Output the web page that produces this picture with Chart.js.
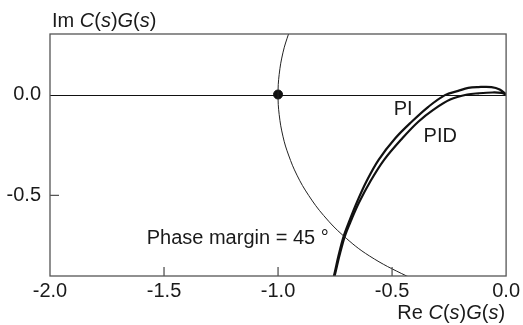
<!DOCTYPE html>
<html><head><meta charset="utf-8">
<script src="https://cdn.jsdelivr.net/npm/chart.js@4/dist/chart.umd.min.js"></script>
<style>html,body{margin:0;padding:0;background:#fff}#wrap{width:523px;height:325px}</style>
</head><body><div id="wrap"><canvas id="c" width="523" height="325"></canvas></div>
<script>
// ---- data ----
const xTicks = [-2.0, -1.5, -1.0, -0.5, 0.0];
const yTicks = [-0.5, 0.0];

const piRe  = [-0.775, -0.755, -0.735, -0.712, -0.685, -0.655, -0.612, -0.559, -0.486, -0.414, -0.341, -0.268, -0.210, -0.166, -0.122, -0.064, -0.028, 0.0];
const piIm  = [-0.980, -0.900, -0.800, -0.702, -0.620, -0.536, -0.430, -0.324, -0.217, -0.135, -0.061, -0.003, 0.018, 0.033, 0.037, 0.037, 0.025, 0.0];

const pidRe = [-0.772, -0.752, -0.731, -0.707, -0.678, -0.645, -0.595, -0.535, -0.455, -0.385, -0.318, -0.245, -0.170, -0.120, -0.060, -0.020, 0.0];
const pidIm = [-0.980, -0.900, -0.800, -0.702, -0.620, -0.536, -0.430, -0.324, -0.217, -0.135, -0.075, -0.025, 0.000, 0.006, 0.010, 0.008, 0.0];

// unit-circle arc as seen in the picture
const circRe = [-0.940, -0.954, -0.978, -0.995, -1.000, -0.995, -0.978, -0.954, -0.917, -0.866, -0.800, -0.714, -0.600, -0.436, -0.350];
const circIm = [0.340, 0.300, 0.210, 0.100, 0.000, -0.100, -0.210, -0.300, -0.400, -0.500, -0.600, -0.700, -0.800, -0.900, -0.937];

const critRe = [-1.0];
const critIm = [0.0];

const noteText = ["PI", "PID", "Phase margin = 45 °"];
const noteRe   = [-0.493, -0.362, -1.576];
const noteIm   = [-0.103, -0.236, -0.743];

// ---- build ----
const pts = (xs, ys) => xs.map((x, i) => ({x: x, y: ys[i]}));
const FONT = "'Liberation Sans', Arial, Helvetica, sans-serif";
Chart.defaults.font.family = FONT;
Chart.defaults.font.size = 20;
Chart.defaults.color = '#1a1a1a';

function drawRich(ctx, x, y, segs, align) {
  ctx.save();
  ctx.textBaseline = 'alphabetic';
  ctx.textAlign = 'left';
  let total = 0;
  const w = segs.map(s => { ctx.font = (s[1] ? 'italic ' : '') + '20px ' + FONT; const m = ctx.measureText(s[0]).width; total += m; return m; });
  let cx = align === 'right' ? x - total : x;
  segs.forEach((s, i) => { ctx.font = (s[1] ? 'italic ' : '') + '20px ' + FONT; ctx.fillText(s[0], cx, y); cx += w[i]; });
  ctx.restore();
}

const framePlugin = {
  id: 'frame',
  beforeDatasetsDraw(chart) {
    const {ctx, chartArea: a, scales: {x, y}} = chart;
    ctx.save();
    ctx.strokeStyle = '#111'; ctx.lineWidth = 1.2;
    const y0 = Math.round(y.getPixelForValue(0)) + 0.5;
    ctx.beginPath(); ctx.moveTo(a.left, y0); ctx.lineTo(a.right, y0); ctx.stroke();
    ctx.restore();
  },
  afterDatasetsDraw(chart) {
    const {ctx, chartArea: a, scales: {x, y}} = chart;
    ctx.save();
    ctx.strokeStyle = '#555'; ctx.lineWidth = 1.3;
    ctx.strokeRect(a.left, a.top, a.right - a.left, a.bottom - a.top);
    ctx.beginPath();
    xTicks.forEach(v => { if (v > -2 && v < 0) { const px = x.getPixelForValue(v); ctx.moveTo(px, a.bottom); ctx.lineTo(px, a.bottom - 9); } });
    yTicks.forEach(v => { if (v !== 0) { const py = y.getPixelForValue(v); ctx.moveTo(a.left, py); ctx.lineTo(a.left + 9, py); } });
    ctx.stroke();
    ctx.restore();
    ctx.save();
    ctx.fillStyle = '#1a1a1a';
    ctx.font = '20px ' + FONT;
    ctx.textBaseline = 'alphabetic';
    noteText.forEach((t, i) => ctx.fillText(t, x.getPixelForValue(noteRe[i]), y.getPixelForValue(noteIm[i])));
    ctx.restore();
    ctx.fillStyle = '#1a1a1a';
    drawRich(ctx, a.left + 2, a.top - 7, [['Im ', false], ['C', true], ['(', false], ['s', true], [')', false], ['G', true], ['(', false], ['s', true], [')', false]]);
    drawRich(ctx, a.right - 1, 319, [['Re ', false], ['C', true], ['(', false], ['s', true], [')', false], ['G', true], ['(', false], ['s', true], [')', false]], 'right');
  }
};

new Chart(document.getElementById('c'), {
  type: 'scatter',
  data: {
    datasets: [
      {label: 'circle', data: pts(circRe, circIm), showLine: true, borderColor: '#222', borderWidth: 1, pointRadius: 0, tension: 0.4},
      {label: 'PI', data: pts(piRe, piIm), showLine: true, borderColor: '#111', borderWidth: 2.2, pointRadius: 0, tension: 0.35},
      {label: 'PID', data: pts(pidRe, pidIm), showLine: true, borderColor: '#111', borderWidth: 2.2, pointRadius: 0, tension: 0.35},
      {label: 'crit', data: pts(critRe, critIm), showLine: false, backgroundColor: '#111', borderColor: '#111', pointRadius: 4.5, pointHoverRadius: 4.5}
    ]
  },
  options: {
    responsive: false, animation: false, devicePixelRatio: 1,
    layout: {padding: {left: 0, right: 15, top: 34, bottom: 0}},
    plugins: {legend: {display: false}, tooltip: {enabled: false}},
    scales: {
      x: {
        type: 'linear', min: -2, max: 0,
        grid: {display: false, drawTicks: false},
        border: {display: false},
        afterBuildTicks: s => { s.ticks = xTicks.map(v => ({value: v})); },
        afterFit: s => { s.height = 49; },
        ticks: {padding: 3, maxRotation: 0, autoSkip: false, callback: v => Number(v).toFixed(1), font: {size: 20}, color: '#1a1a1a'}
      },
      y: {
        type: 'linear', min: -0.9, max: 0.3,
        grid: {display: false, drawTicks: false},
        border: {display: false},
        afterBuildTicks: s => { s.ticks = yTicks.map(v => ({value: v})); },
        afterFit: s => { s.width = 50; },
        ticks: {padding: 9, autoSkip: false, callback: v => Number(v).toFixed(1), font: {size: 20}, color: '#1a1a1a'}
      }
    }
  },
  plugins: [framePlugin]
});
</script>
</body></html>
